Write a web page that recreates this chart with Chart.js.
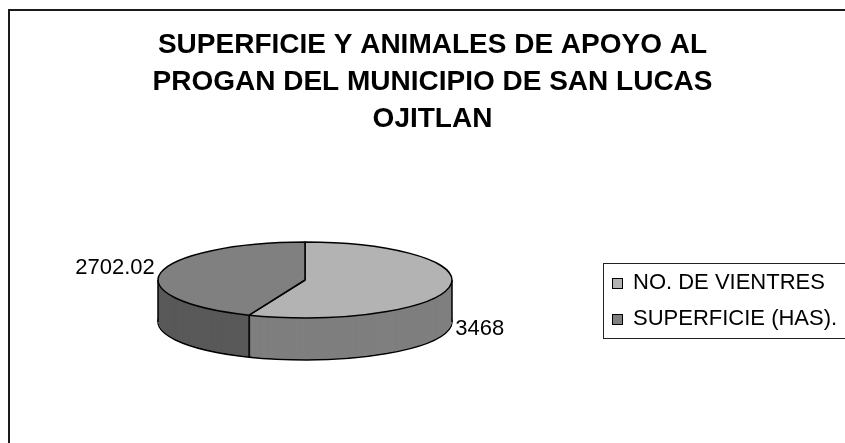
<!DOCTYPE html>
<html>
<head>
<meta charset="utf-8">
<script src="https://cdn.jsdelivr.net/npm/chart.js@4.4.1/dist/chart.umd.min.js"></script>
<style>
  html, body { margin: 0; padding: 0; background: #fff; }
</style>
</head>
<body>
<canvas id="chartProgan" width="845" height="443"></canvas>
<script>
const categorias = ["NO. DE VIENTRES", "SUPERFICIE (HAS)."];
const valores = [3468, 2702.02];
const tituloLineas = [
    "SUPERFICIE Y ANIMALES DE APOYO AL",
    "PROGAN DEL MUNICIPIO DE SAN LUCAS",
    "OJITLAN",
];

const coloresCara = ["#b3b3b3", "#808080"];
const coloresLado = ["#7f7f7f", "#595959"];

const ALTO = 42;              // grosor del pastel 3D
const ACHATADO = 38 / 147;    // relacion alto/ancho de la elipse
const FUENTE = '"Liberation Sans", Arial, sans-serif';

function aplastar(ctx, cx, cy) {
    ctx.translate(cx, cy);
    ctx.scale(1, ACHATADO);
    ctx.translate(-cx, -cy);
}

// el borde se traza sin la escala, para que no quede fino arriba y abajo
function parchearTrazo(chart) {
    const ctx = chart.ctx;
    const r = chart.currentDevicePixelRatio;
    const original = CanvasRenderingContext2D.prototype.stroke;
    ctx.stroke = function () {
        const m = this.getTransform();
        this.setTransform(r, 0, 0, r, 0, 0);
        original.apply(this, arguments);
        this.setTransform(m);
    };
}

function dibujarCon(arco, ctx, cambios) {
    const orig = arco.options;
    arco.options = Object.assign({}, orig, cambios);
    arco.draw(ctx);
    arco.options = orig;
}

const pastel3D = {
    id: "pastel3D",
    beforeDatasetsDraw(chart) {
        const ctx = chart.ctx;
        const arcos = chart.getDatasetMeta(0).data;
        const { x: cx, y: cy, outerRadius: r } = arcos[0];
        const ry = r * ACHATADO;

        parchearTrazo(chart);

        for (let d = ALTO; d >= 1; d--) {
            ctx.save();
            ctx.translate(0, d);
            aplastar(ctx, cx, cy);
            arcos.forEach((arco, i) => {
                dibujarCon(arco, ctx, {
                    backgroundColor: coloresLado[i],
                    borderColor: "#000",
                    borderWidth: d === ALTO ? 1.5 : 0,
                });
            });
            ctx.restore();
        }

        // aristas verticales del frente
        ctx.save();
        ctx.strokeStyle = "#000";
        ctx.lineWidth = 1.5;
        const angulos = arcos.map((a) => a.startAngle).concat([0, Math.PI]);
        angulos.forEach((a) => {
            if (Math.sin(a) < -1e-6) return;
            const x = cx + r * Math.cos(a);
            const y = cy + ry * Math.sin(a);
            ctx.beginPath();
            ctx.moveTo(x, y);
            ctx.lineTo(x, y + ALTO);
            ctx.stroke();
        });
        ctx.restore();

        ctx.save();
        aplastar(ctx, cx, cy);
    },
    afterDatasetsDraw(chart) {
        chart.ctx.restore();
        delete chart.ctx.stroke;
    },
    afterDraw(chart) {
        const ctx = chart.ctx;
        const arcos = chart.getDatasetMeta(0).data;
        const { x: cx, y: cy, outerRadius: r } = arcos[0];
        const ry = r * ACHATADO;

        ctx.save();

        // marco del grafico
        ctx.strokeStyle = "#1a1a1a";
        ctx.lineWidth = 2;
        ctx.strokeRect(9, 10, 900, 500);

        // titulo
        ctx.fillStyle = "#000";
        ctx.font = "bold 28px " + FUENTE;
        ctx.textAlign = "center";
        ctx.textBaseline = "alphabetic";
        tituloLineas.forEach((linea, i) => {
            ctx.fillText(linea, 432.5, 53 + i * 37);
        });

        // etiquetas de valores
        ctx.font = "22px " + FUENTE;
        ctx.textBaseline = "middle";
        arcos.forEach((arco, i) => {
            const medio = (arco.startAngle + arco.endAngle) / 2;
            const c = Math.cos(medio);
            const s = Math.sin(medio);
            const x = cx + r * c + (c >= 0 ? 6 : -6);
            const y = cy + ry * s + (s > 0 ? ALTO : -5);
            ctx.textAlign = c >= 0 ? "left" : "right";
            ctx.fillText(String(valores[i]), x, y);
        });

        // leyenda
        ctx.strokeStyle = "#222";
        ctx.lineWidth = 1;
        ctx.strokeRect(603.5, 263.5, 400, 75);
        ctx.textAlign = "left";
        categorias.forEach((cat, i) => {
            const y = 283 + i * 36;
            ctx.fillStyle = coloresCara[i];
            ctx.fillRect(612, y - 5, 11, 11);
            ctx.strokeStyle = "#000";
            ctx.strokeRect(612.5, y - 4.5, 10, 10);
            ctx.fillStyle = "#000";
            ctx.fillText(cat, 633, y);
        });

        ctx.restore();
    },
};

new Chart(document.getElementById("chartProgan").getContext("2d"), {
    type: "pie",
    data: {
        labels: categorias,
        datasets: [
            {
                data: valores,
                backgroundColor: coloresCara,
                borderColor: "#000",
                borderWidth: 1.5,
            },
        ],
    },
    options: {
        responsive: false,
        animation: false,
        events: [],
        radius: 147,
        layout: {
            padding: { left: 158, right: 393, top: 133, bottom: 16 },
        },
        plugins: {
            legend: { display: false },
            tooltip: { enabled: false },
            title: { display: false },
        },
    },
    plugins: [pastel3D],
});
</script>
</body>
</html>
